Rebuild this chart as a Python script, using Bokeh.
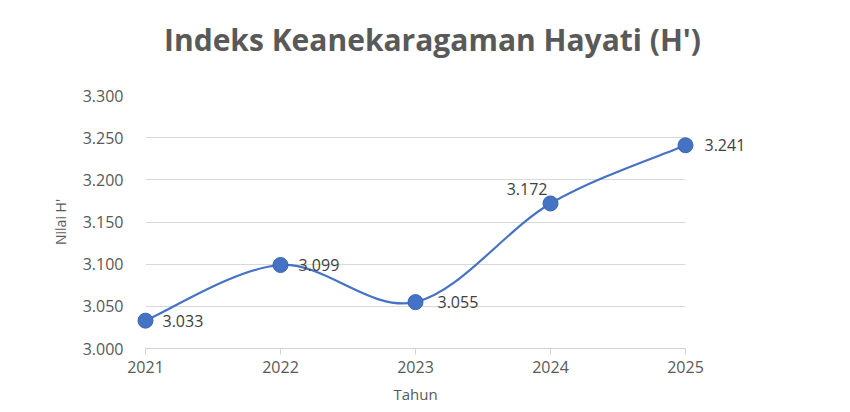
from bokeh.plotting import figure
from bokeh.models import (ColumnDataSource, FixedTicker, NumeralTickFormatter, Range1d)
from bokeh.core.properties import value
from bokeh.embed import file_html
from bokeh.resources import INLINE

# ---- data ----
years = [2021, 2022, 2023, 2024, 2025]
values = [3.033, 3.099, 3.055, 3.172, 3.241]
value_labels = ["3.033", "3.099", "3.055", "3.172", "3.241"]
y_ticks = [3.000, 3.050, 3.100, 3.150, 3.200, 3.250, 3.300]
title_text = "Indeks Keanekaragaman Hayati (H')"

# label placement (style, not data)
lab_dx = [17, 18, 22, -3, 19]
lab_dy = [0, 0, 0, -14, 0]
lab_align = ["left", "left", "left", "right", "left"]

BLUE = "#4472C4"
GRAY = "#595959"
FONT = "Open Sans"

p = figure(width=850, height=412, output_backend="svg", toolbar_location=None,
           x_range=Range1d(2021, 2025), y_range=Range1d(3.0, 3.3),
           min_border_left=145, min_border_right=165,
           min_border_top=95, min_border_bottom=64)
p.outline_line_color = None
p.background_fill_color = "white"
p.border_fill_color = "white"

# smoothed line as cubic Bezier segments (Catmull-Rom style control points)
n = len(years)
x0s, y0s, x1s, y1s, cx0, cy0, cx1, cy1 = [], [], [], [], [], [], [], []
for i in range(n - 1):
    xp, yp = years[max(i - 1, 0)], values[max(i - 1, 0)]
    xa, ya = years[i], values[i]
    xb, yb = years[i + 1], values[i + 1]
    xn, yn = years[min(i + 2, n - 1)], values[min(i + 2, n - 1)]
    x0s.append(xa); y0s.append(ya); x1s.append(xb); y1s.append(yb)
    cx0.append(xa + (xb - xp) / 6); cy0.append(ya + (yb - yp) / 6)
    cx1.append(xb - (xn - xa) / 6); cy1.append(yb - (yn - ya) / 6)
p.bezier(x0=x0s, y0=y0s, x1=x1s, y1=y1s, cx0=cx0, cy0=cy0, cx1=cx1, cy1=cy1,
         line_color=BLUE, line_width=2.2, level="overlay")

src = ColumnDataSource(dict(x=years, y=values, t=value_labels, dx=lab_dx,
                            dy=lab_dy, al=lab_align))
p.scatter("x", "y", source=src, size=15, fill_color=BLUE, line_color="#3a64b0",
          line_width=1, level="overlay")

p.text(x="x", y="y", text="t", source=src, x_offset="dx", y_offset="dy",
       text_align="al", text_baseline="middle", text_font=value(FONT),
       text_font_size="16px", text_color="#404040", level="overlay")

# title drawn as overlay text (centred above the plot)
p.text(x=[2023.126], y=[3.366], text=[title_text], text_align="center",
       text_baseline="middle", text_font=value(FONT), text_font_size="30px",
       text_font_style="bold", text_color=GRAY, level="overlay")

# axes
p.xaxis.ticker = FixedTicker(ticks=years)
p.xaxis.axis_line_color = "#d0d0d0"
p.xaxis.major_tick_line_color = "#d0d0d0"
p.xaxis.major_tick_out = 6
p.xaxis.major_tick_in = 0
p.xaxis.minor_tick_line_color = None
p.xaxis.major_label_text_font = FONT
p.xaxis.major_label_text_font_size = "16px"
p.xaxis.major_label_text_color = GRAY
p.xaxis.major_label_standoff = 6
p.xaxis.axis_label = "Tahun"
p.xaxis.axis_label_text_font = FONT
p.xaxis.axis_label_text_font_size = "15px"
p.xaxis.axis_label_text_font_style = "normal"
p.xaxis.axis_label_text_color = GRAY
p.xaxis.axis_label_standoff = 8

p.yaxis.ticker = FixedTicker(ticks=y_ticks)
p.yaxis.formatter = NumeralTickFormatter(format="0.000")
p.yaxis.axis_line_color = None
p.yaxis.major_tick_line_color = None
p.yaxis.minor_tick_line_color = None
p.yaxis.major_tick_out = 0
p.yaxis.major_tick_in = 0
p.yaxis.major_label_text_font = FONT
p.yaxis.major_label_text_font_size = "16px"
p.yaxis.major_label_text_color = GRAY
p.yaxis.major_label_standoff = 22
p.yaxis.axis_label = "Nilai H'"
p.yaxis.axis_label_text_font = FONT
p.yaxis.axis_label_text_font_size = "14px"
p.yaxis.axis_label_text_font_style = "normal"
p.yaxis.axis_label_text_color = GRAY
p.yaxis.axis_label_standoff = 10

p.xgrid.grid_line_color = None
p.ygrid.ticker = FixedTicker(ticks=y_ticks)
p.ygrid.grid_line_color = "#d9d9d9"
p.ygrid.grid_line_width = 1

open("out.html", "w").write(file_html(p, INLINE))
